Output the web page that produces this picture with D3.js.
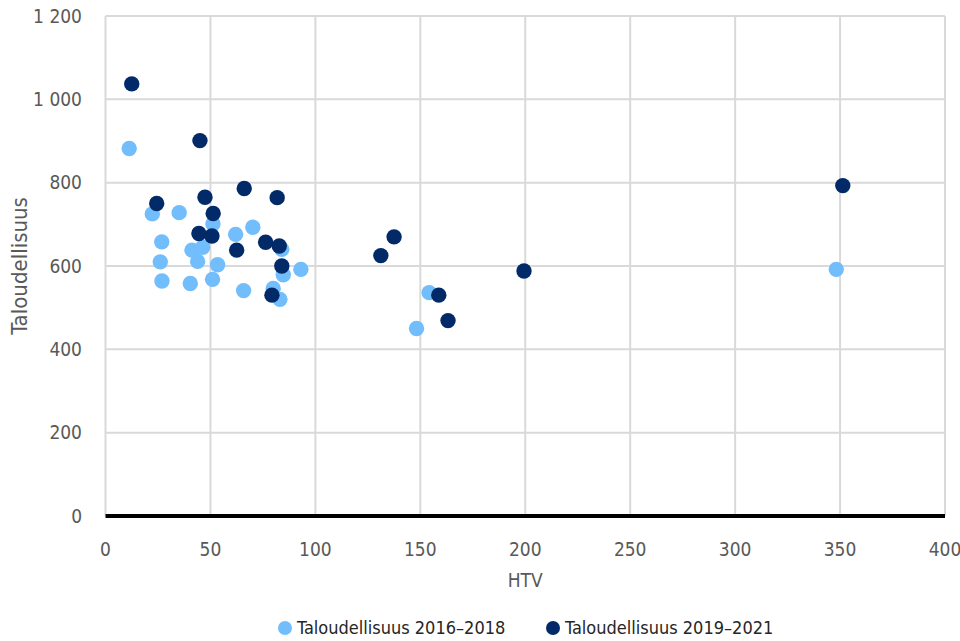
<!DOCTYPE html>
<html lang="fi">
<head>
  <meta charset="UTF-8">
  <title>Taloudellisuus vs HTV</title>
  <script src="https://d3js.org/d3.v7.min.js"></script>
  <style>
    body { margin: 0; background: #fff; }
    svg { display: block; }
    text { font-family: "Liberation Sans Narrow", "DejaVu Sans Condensed", "DejaVu Sans", sans-serif; font-stretch: condensed; }
    .tick-label { fill: #595959; font-size: 19px; }
    .axis-title { fill: #595959; font-size: 19px; }
    .legend-text { fill: #262626; font-size: 18px; }
  </style>
</head>
<body>
  <svg id="chart" width="960" height="641"></svg>
  <script>
    // Taloudellisuus 2016–2018
    const htv1618 = [11.3, 22.3, 35.1, 26.8, 26.1, 26.9, 40.4, 51.0, 43.9, 41.2, 46.3, 53.4,
                     62.0, 70.2, 51.2, 65.8, 79.9, 83.1, 84.7, 93.1, 84.0, 348.2, 154.2, 148.2];
    const tal1618 = [882, 725, 728, 658, 610, 564, 558, 568, 611, 638, 645, 603,
                     676, 693, 701, 541, 546, 520, 579, 592, 640, 592, 536, 450];

    // Taloudellisuus 2019–2021
    const htv1921 = [12.5, 45.0, 24.4, 47.4, 66.1, 81.8, 51.3, 44.5, 50.7, 62.5,
                     76.3, 82.8, 84.0, 79.3, 137.5, 131.2, 199.4, 158.8, 163.2, 351.3];
    const tal1921 = [1037, 901, 750, 765, 786, 764, 726, 678, 672, 638,
                     657, 648, 600, 530, 670, 625, 588, 530, 469, 793];

    const xTicks = [0, 50, 100, 150, 200, 250, 300, 350, 400];
    const yTicks = [0, 200, 400, 600, 800, 1000, 1200];
    const seriesNames = ["Taloudellisuus 2016\u20132018", "Taloudellisuus 2019\u20132021"];
    const colors = ["#72bdfc", "#022a68"];

    const width = 960, height = 641;
    const margin = { top: 16, right: 15, bottom: 125, left: 105.5 };

    const svg = d3.select("#chart");

    const x = d3.scaleLinear().domain([0, 400]).range([margin.left, width - margin.right]);
    const y = d3.scaleLinear().domain([0, 1200]).range([height - margin.bottom, margin.top]);

    // gridlines
    const grid = svg.append("g").attr("stroke", "#d9d9d9").attr("stroke-width", 2);
    grid.selectAll("line.v").data(xTicks).join("line")
        .attr("x1", d => x(d)).attr("x2", d => x(d))
        .attr("y1", y(0)).attr("y2", y(1200));
    grid.selectAll("line.h").data(yTicks.slice(1)).join("line")
        .attr("x1", x(0)).attr("x2", x(400))
        .attr("y1", d => y(d)).attr("y2", d => y(d));

    // tick labels (space as thousands separator)
    svg.append("g").selectAll("text").data(yTicks).join("text")
        .attr("class", "tick-label")
        .attr("x", 82).attr("y", d => y(d))
        .attr("dy", "0.35em")
        .attr("text-anchor", "end")
        .text(d => d3.format(",")(d).replace(/,/g, " "));
    svg.append("g").selectAll("text").data(xTicks).join("text")
        .attr("class", "tick-label")
        .attr("x", d => x(d)).attr("y", 549)
        .attr("dy", "0.35em")
        .attr("text-anchor", "middle")
        .text(d => d);

    // axis titles
    svg.append("text").attr("class", "axis-title")
        .attr("x", (x(0) + x(400)) / 2).attr("y", 580).attr("dy", "0.35em")
        .attr("text-anchor", "middle").text("HTV");
    svg.append("text").attr("class", "axis-title")
        .style("font-size", "22px")
        .attr("transform", `translate(19,${(y(0) + y(1200)) / 2}) rotate(-90)`)
        .attr("dy", "0.35em")
        .attr("text-anchor", "middle").text("Taloudellisuus");

    // x axis line
    svg.append("line")
        .attr("x1", x(0)).attr("x2", x(400))
        .attr("y1", y(0)).attr("y2", y(0))
        .attr("stroke", "#000").attr("stroke-width", 4);

    // points
    const r = 7.7;
    const pts1 = htv1618.map((v, i) => [v, tal1618[i]]);
    const pts2 = htv1921.map((v, i) => [v, tal1921[i]]);
    svg.append("g").selectAll("circle").data(pts1).join("circle")
        .attr("cx", d => x(d[0])).attr("cy", d => y(d[1])).attr("r", r)
        .attr("fill", colors[0]);
    svg.append("g").selectAll("circle").data(pts2).join("circle")
        .attr("cx", d => x(d[0])).attr("cy", d => y(d[1])).attr("r", r)
        .attr("fill", colors[1]);

    // legend
    const legendX = [285, 553];
    const legendY = 628;
    const legend = svg.append("g");
    seriesNames.forEach((name, i) => {
      legend.append("circle")
          .attr("cx", legendX[i]).attr("cy", legendY).attr("r", 7)
          .attr("fill", colors[i]);
      legend.append("text").attr("class", "legend-text")
          .attr("x", legendX[i] + 12).attr("y", legendY).attr("dy", "0.35em")
          .text(name);
    });
  </script>
</body>
</html>
